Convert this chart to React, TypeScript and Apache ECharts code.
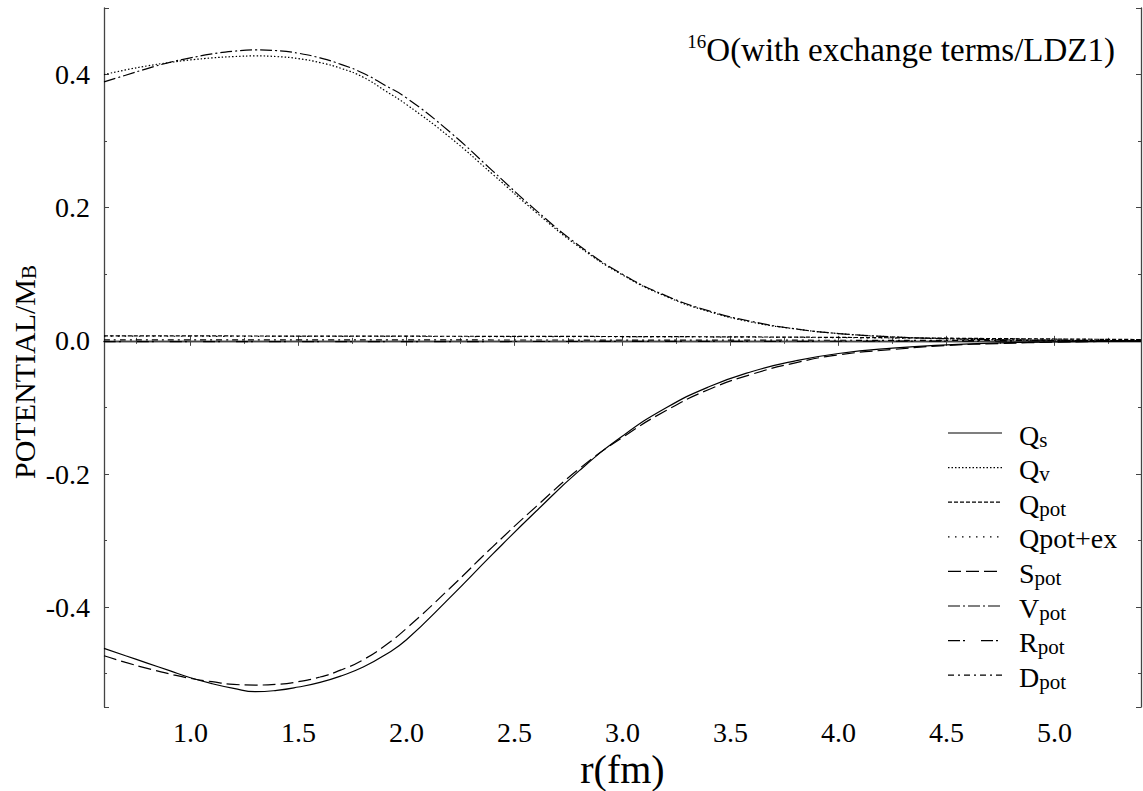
import React, { useEffect, useRef } from "react";
import * as echarts from "echarts";

const FONT = "Liberation Serif";

// radial grid (fm) for the large curves
const rDense = [0.6, 0.7, 0.8, 0.9, 1.0, 1.1, 1.2, 1.3, 1.4, 1.5, 1.6, 1.7, 1.8, 1.9, 2.0, 2.2, 2.4, 2.6, 2.8, 3.0, 3.2, 3.4, 3.6, 3.8, 4.0, 4.25, 4.5, 4.75, 5.0, 5.2, 5.4];
const qS = [-0.462, -0.473, -0.484, -0.495, -0.506, -0.515, -0.522, -0.527, -0.525, -0.520, -0.513, -0.503, -0.490, -0.472, -0.449, -0.386, -0.320, -0.256, -0.195, -0.143, -0.101, -0.069, -0.046, -0.030, -0.019, -0.011, -0.006, -0.003, -0.0015, -0.001, -0.0005];
const sPot = [-0.473, -0.483, -0.492, -0.500, -0.507, -0.512, -0.516, -0.517, -0.516, -0.512, -0.505, -0.494, -0.479, -0.458, -0.432, -0.372, -0.309, -0.249, -0.192, -0.145, -0.105, -0.073, -0.050, -0.033, -0.021, -0.013, -0.007, -0.004, -0.002, -0.001, -0.0006];
const qV = [0.400, 0.407, 0.413, 0.418, 0.422, 0.425, 0.427, 0.428, 0.427, 0.424, 0.418, 0.409, 0.396, 0.376, 0.355, 0.306, 0.250, 0.193, 0.141, 0.099, 0.067, 0.044, 0.028, 0.018, 0.011, 0.006, 0.0032, 0.0017, 0.001, 0.0005, 0.0003];
const vPot = [0.389, 0.399, 0.409, 0.418, 0.425, 0.431, 0.435, 0.437, 0.436, 0.432, 0.425, 0.415, 0.402, 0.384, 0.365, 0.314, 0.255, 0.196, 0.143, 0.100, 0.068, 0.045, 0.029, 0.018, 0.011, 0.006, 0.0032, 0.0017, 0.001, 0.0005, 0.0003];

// radial grid (fm) for the near-zero curves
const rSparse = [0.6, 1.0, 1.5, 2.0, 2.5, 3.0, 3.5, 4.0, 4.5, 5.0, 5.4];
const qPot = [0.0075, 0.0074, 0.0072, 0.0070, 0.0068, 0.0065, 0.0060, 0.0052, 0.0040, 0.0028, 0.0020];
const qPotEx = [0.0070, 0.0069, 0.0068, 0.0066, 0.0064, 0.0061, 0.0056, 0.0048, 0.0037, 0.0026, 0.0018];
const rPot = [-0.0012, -0.0012, -0.0011, -0.0011, -0.0010, -0.0009, -0.0008, -0.0006, -0.0004, -0.0002, -0.0001];
const dPot = [0.0015, 0.0015, 0.0014, 0.0014, 0.0013, 0.0012, 0.0011, 0.0009, 0.0007, 0.0005, 0.0003];

const seriesNames = ["Qs", "Qv", "Qpot", "Qpot+ex", "Spot", "Vpot", "Rpot", "Dpot"];
const legendMain = ["Q", "Q", "Q", "Qpot+ex", "S", "V", "R", "D"];
const legendSub = ["s", "v", "pot", "", "pot", "pot", "pot", "pot"];

const titleSup = "16";
const titleMain = "O(with exchange terms/LDZ1)";
const xName = "r(fm)";
const yNameMain = "POTENTIAL/M";
const yNameSub = "B";

const dashes: (string | number[])[] = [
  "solid",
  [1.5, 2],
  [4, 2],
  [1.5, 5.5],
  [13, 5],
  [12, 3, 2, 3],
  [12, 3, 2, 16],
  [6, 4, 2, 4],
];

export default function App() {
  const ref = useRef<HTMLDivElement>(null);
  useEffect(() => {
    if (!ref.current) return;
    const chart = echarts.init(ref.current, undefined, { renderer: "svg" });
    const seriesData = [
      rDense.map((r, i) => [r, qS[i]]),
      rDense.map((r, i) => [r, qV[i]]),
      rSparse.map((r, i) => [r, qPot[i]]),
      rSparse.map((r, i) => [r, qPotEx[i]]),
      rDense.map((r, i) => [r, sPot[i]]),
      rDense.map((r, i) => [r, vPot[i]]),
      rSparse.map((r, i) => [r, rPot[i]]),
      rSparse.map((r, i) => [r, dPot[i]]),
    ];
    const axisColor = "#444";
    const commonX = {
      type: "value" as const,
      min: 0.6,
      max: 5.4,
      splitNumber: 10,
      splitLine: { show: false },
      axisLine: { show: true, lineStyle: { color: axisColor, width: 1.3 } },
      axisTick: { show: true, inside: true, length: 5, lineStyle: { color: axisColor } },
      minorTick: { show: true, splitNumber: 2, length: 3, lineStyle: { color: axisColor } },
    };
    const commonY = {
      type: "value" as const,
      min: -0.55,
      max: 0.5,
      splitNumber: 5,
      splitLine: { show: false },
      axisLine: { show: true, lineStyle: { color: axisColor, width: 1.3 } },
      axisTick: { show: true, inside: true, length: 5, lineStyle: { color: axisColor } },
      minorTick: { show: true, splitNumber: 2, length: 3, lineStyle: { color: axisColor } },
    };
    const legendTop = 433;
    const legendStep = 34.6;
    const legendGraphics: any[] = [];
    seriesNames.forEach((_, i) => {
      const y = legendTop + i * legendStep;
      const d = dashes[i];
      legendGraphics.push({
        type: "line",
        shape: { x1: 948, y1: y, x2: 1002, y2: y },
        style: { stroke: "#000", lineWidth: 1.2, lineDash: typeof d === "string" ? null : d },
      });
      legendGraphics.push({
        type: "text",
        x: 1019,
        y: y + 2,
        style: {
          text: legendSub[i] ? `{m|${legendMain[i]}}{s|${legendSub[i]}}` : `{m|${legendMain[i]}}`,
          verticalAlign: "middle",
          align: "left",
          fill: "#000",
          rich: {
            m: { fontSize: 28, fontFamily: FONT, lineHeight: 30, fill: "#000" },
            s: { fontSize: 21, fontFamily: FONT, lineHeight: 14, verticalAlign: "bottom", fill: "#000" },
          },
        },
      });
    });
    const labelStyle = {
      show: true,
      showMinLabel: false,
      showMaxLabel: false,
      fontSize: 28,
      fontFamily: FONT,
      color: "#000",
      margin: 14,
      formatter: (v: number) => `{t|${v.toFixed(1)}}`,
      rich: { t: { fontSize: 28, fontFamily: FONT, color: "#000" } },
    };
    chart.setOption({
      animation: false,
      backgroundColor: "#fff",
      textStyle: { fontFamily: FONT, color: "#000" },
      grid: { left: 104, right: 2, top: 8, bottom: 84, containLabel: false, outerBoundsMode: "none" },
      xAxis: [
        {
          ...commonX,
          position: "bottom",
          axisLabel: { ...labelStyle, margin: 11 },
          name: xName,
          nameLocation: "middle",
          nameGap: 42,
          nameMoveOverlap: false,
          nameTextStyle: { fontSize: 40, fontFamily: FONT, color: "#000" },
        },
        { ...commonX, position: "top", axisLabel: { show: false } },
      ],
      yAxis: [
        { ...commonY, position: "left", axisLabel: labelStyle },
        { ...commonY, position: "right", axisLabel: { show: false } },
      ],
      series: seriesNames.map((name, i) => ({
        name,
        type: "line",
        xAxisIndex: 0,
        yAxisIndex: 0,
        data: seriesData[i],
        showSymbol: false,
        symbol: "none",
        smooth: true,
        lineStyle: { color: "#000", width: 1.2, type: dashes[i] },
        silent: true,
      })),
      graphic: [
        {
          type: "text",
          x: 1115,
          y: 50,
          style: {
            text: `{sup|${titleSup}}{m|${titleMain}}`,
            align: "right",
            verticalAlign: "middle",
            fill: "#000",
            rich: {
              sup: { fontSize: 19, fontFamily: FONT, lineHeight: 12, verticalAlign: "top", fill: "#000" },
              m: { fontSize: 33, fontFamily: FONT, lineHeight: 36, fill: "#000" },
            },
          },
        },
        {
          type: "text",
          x: 24,
          y: 372,
          rotation: Math.PI / 2,
          style: {
            text: `{m|${yNameMain}}{s|${yNameSub}}`,
            align: "center",
            verticalAlign: "middle",
            fill: "#000",
            rich: {
              m: { fontSize: 30, fontFamily: FONT, lineHeight: 30, fill: "#000" },
              s: { fontSize: 21, fontFamily: FONT, lineHeight: 14, verticalAlign: "bottom", fill: "#000" },
            },
          },
        },
        ...legendGraphics,
      ],
    });
    return () => chart.dispose();
  }, []);
  return (
    <div
      ref={ref}
      style={{ position: "fixed", left: 0, top: 0, width: 1143, height: 791, background: "#fff" }}
    />
  );
}
